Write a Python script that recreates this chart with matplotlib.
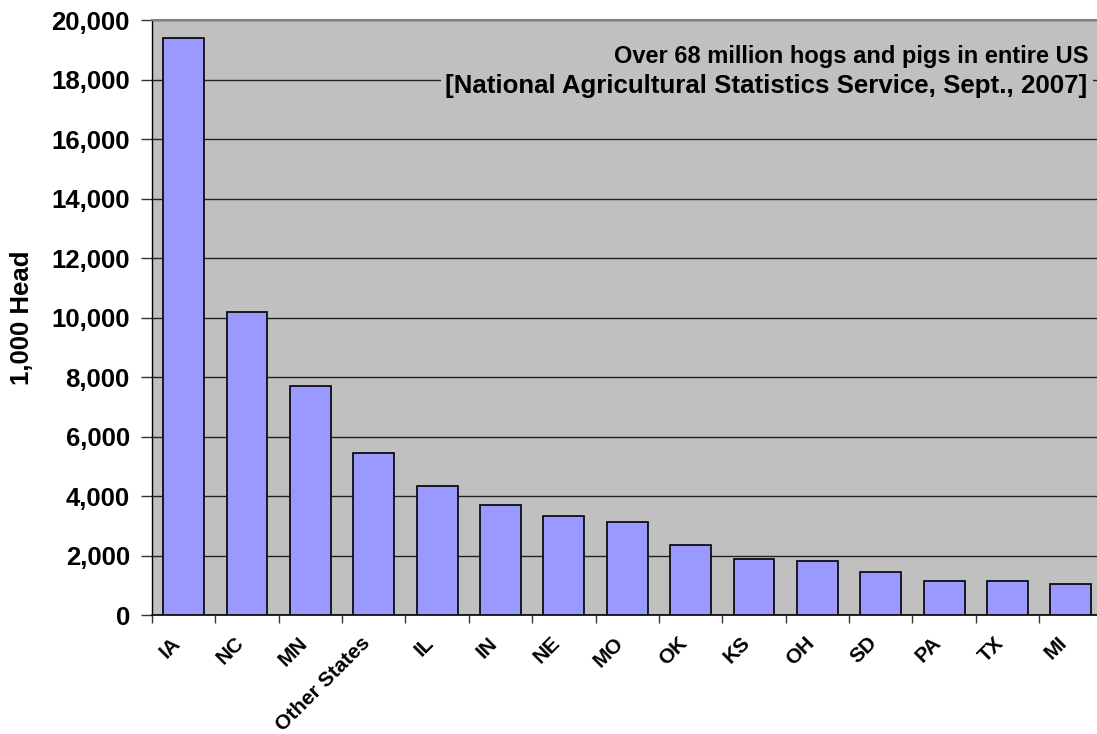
import matplotlib
matplotlib.use("Agg")
import matplotlib.pyplot as plt
import matplotlib.transforms as mtransforms
from matplotlib.patches import Rectangle
import numpy as np

plt.rcParams['font.family'] = ['Liberation Sans', 'DejaVu Sans']
plt.rcParams['font.weight'] = 'bold'

states = ["IA", "NC", "MN", "Other States", "IL", "IN", "NE", "MO",
          "OK", "KS", "OH", "SD", "PA", "TX", "MI"]
head_thousands = [19400, 10200, 7700, 5450, 4350, 3700, 3350, 3150,
                  2350, 1880, 1830, 1450, 1160, 1160, 1040]
y_ticks = [0, 2000, 4000, 6000, 8000, 10000, 12000, 14000, 16000, 18000, 20000]
note_line1 = "Over 68 million hogs and pigs in entire US"
note_line2 = "[National Agricultural Statistics Service, Sept., 2007]"

W, H = 1097, 734
fig = plt.figure(figsize=(W / 100, H / 100), dpi=100)
left, right, bottom, top = 152, 1102.5, 615.3, 20
ax = fig.add_axes([left / W, (H - bottom) / H, (right - left) / W, (bottom - top) / H])
ax.set_facecolor('#C0C0C0')


def px_x(px):
    return (px - left) / (right - left)


def px_y(py):
    return (bottom - py) / (bottom - top)


x = np.arange(len(states))
ax.bar(x, head_thousands, width=0.645, color='#9999FF', edgecolor='black',
       linewidth=1.2, zorder=3)

ax.set_xlim(-0.5, len(states) - 0.5)
ax.set_ylim(0, 20000)
ax.set_yticks(y_ticks)
ax.set_yticklabels([f"{v:,}" for v in y_ticks], fontsize=18.5, fontweight='bold')
ax.tick_params(axis='y', length=8, width=1, color='#333333', pad=8)

ax.yaxis.grid(True, color='#222222', linewidth=1.0, zorder=0)
ax.set_axisbelow(True)

ax.set_xticks(x)
ax.set_xticklabels(states, rotation=45, ha='right', va='top',
                   rotation_mode='anchor', fontsize=15, fontweight='bold')
ax.tick_params(axis='x', which='major', length=0, pad=13)
shift = mtransforms.ScaledTranslation(-13 / 100, 0, fig.dpi_scale_trans)
for lbl in ax.get_xticklabels():
    lbl.set_transform(lbl.get_transform() + shift)
ax.set_xticks(np.arange(-0.5, len(states), 1.0), minor=True)
ax.tick_params(axis='x', which='minor', length=6, width=1, color='#333333')

ax.spines['top'].set_color('#808080')
ax.spines['top'].set_linewidth(1.5)
ax.spines['right'].set_visible(False)
ax.spines['left'].set_color('black')
ax.spines['bottom'].set_color('black')
ax.spines['left'].set_linewidth(1.0)
ax.spines['bottom'].set_linewidth(1.2)

ax.set_ylabel("1,000 Head", fontsize=18.5, fontweight='bold', labelpad=12)

# Note box: plain gray panel that hides the gridline behind the text
ax.add_patch(Rectangle((px_x(441), px_y(100)), px_x(1093) - px_x(441),
                       px_y(36) - px_y(100), transform=ax.transAxes,
                       facecolor='#C0C0C0', edgecolor='none', zorder=2))
ax.text(px_x(1088), px_y(63), note_line1, transform=ax.transAxes,
        ha='right', va='baseline', fontsize=17, fontweight='bold', zorder=5)
ax.text(px_x(1087), px_y(93), note_line2, transform=ax.transAxes,
        ha='right', va='baseline', fontsize=18.6, fontweight='bold', zorder=5)

fig.savefig("out.png", dpi=100)
